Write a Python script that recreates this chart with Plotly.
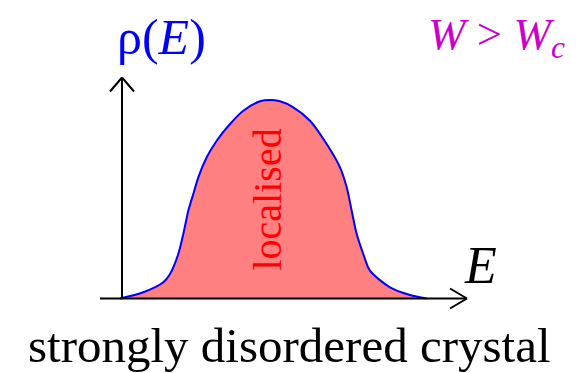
import plotly.graph_objects as go

# Density of states curve (arbitrary units)
energy = [-0.02, 0.213, 0.413, 0.48, 0.563, 0.613, 0.663, 0.713, 0.763, 0.847, 0.947, 1.08,
          1.213, 1.38, 1.48, 1.58, 1.713, 1.88, 2.047, 2.18, 2.247, 2.297, 2.347, 2.413,
          2.48, 2.68, 2.88, 3.047]
density = [0.0, 0.062, 0.162, 0.245, 0.445, 0.645, 0.878, 1.045, 1.212, 1.412, 1.578, 1.745,
           1.878, 1.972, 1.985, 1.972, 1.912, 1.778, 1.545, 1.312, 1.112, 0.878, 0.645, 0.445,
           0.278, 0.112, 0.035, 0.0]

y_label = "ρ(<i>E</i>)"
x_label = "<i>E</i>"
regime_label = "<i>W</i> > <i>W<sub>c</sub></i>"
region_label = "localised"
caption = "strongly disordered crystal"

FONT = "Liberation Serif"

fig = go.Figure()
fig.add_trace(go.Scatter(
    x=energy, y=density, mode="lines",
    line=dict(color="#0000ff", width=2, shape="spline", smoothing=0.8),
    fill="tozeroy", fillcolor="#ff8080", hoverinfo="skip", showlegend=False))

axis_line = dict(color="black", width=2)
shapes = [
    # y axis with open arrow head
    dict(type="line", x0=0, y0=0, x1=0, y1=2.2, line=axis_line),
    dict(type="line", x0=-0.12, y0=2.07, x1=0, y1=2.21, line=axis_line),
    dict(type="line", x0=0.12, y0=2.07, x1=0, y1=2.21, line=axis_line),
    # x axis with open arrow head
    dict(type="line", x0=-0.22, y0=0, x1=3.44, y1=0, line=axis_line),
    dict(type="line", x0=3.28, y0=0.10, x1=3.45, y1=0, line=axis_line),
    dict(type="line", x0=3.28, y0=-0.10, x1=3.45, y1=0, line=axis_line),
]

annotations = [
    dict(x=-0.07, y=2.62, xanchor="left", text=y_label, showarrow=False,
         font=dict(family=FONT, size=50, color="#0000ff")),
    dict(x=4.45, y=2.62, xanchor="right", text=regime_label, showarrow=False,
         font=dict(family=FONT, size=45, color="#cc00cc")),
    dict(x=3.58, y=0.33, text=x_label, showarrow=False,
         font=dict(family=FONT, size=52, color="black")),
    dict(x=1.45, y=0.99, text=region_label, showarrow=False, textangle=-90,
         font=dict(family=FONT, size=40, color="#ff0000")),
    dict(x=1.67, y=-0.47, text=caption, showarrow=False,
         font=dict(family=FONT, size=49, color="black")),
]

fig.update_layout(
    width=579, height=373, margin=dict(l=0, r=0, t=0, b=0),
    paper_bgcolor="white", plot_bgcolor="white",
    xaxis=dict(range=[-1.22, 4.57], visible=False, fixedrange=True),
    yaxis=dict(range=[-0.745, 2.985], visible=False, fixedrange=True),
    shapes=shapes, annotations=annotations, showlegend=False,
)

fig.write_html("out.html")
